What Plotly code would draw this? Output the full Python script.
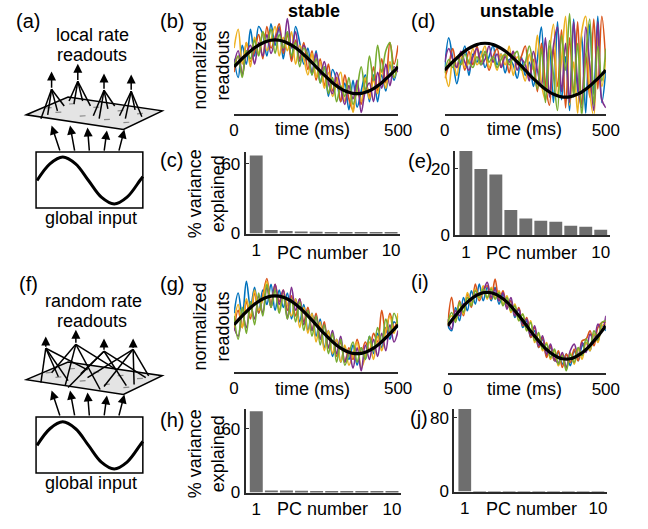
import plotly.graph_objects as go

W, H = 648, 529
FONT = "Liberation Sans, Arial, Helvetica, sans-serif"

# ---------------- data ----------------
t_ms = [i * 12.5 for i in range(41)]
global_input = [0, .16, .31, .45, .59, .71, .81, .89, .95, .99, 1, .99, .95, .89, .81, .71, .59, .45, .31, .16,
                0, -.16, -.31, -.45, -.59, -.71, -.81, -.89, -.95, -.99, -1, -.99, -.95, -.89, -.81, -.71, -.59,
                -.45, -.31, -.16, 0]

blue_b = [0.3, -0.4, 0.8, 0.1, 1.4, 0.4, 1.5, 1.2, 0.4, 1.6, 0.8, 1.5, 0.3, 1.3, 0.3, 1.5, 0.9, 0.1, 0.7, -0.3, 0.6,
          -0.6, 0.0, -1.1, -0.1, -0.5, -1.3, -0.6, -1.6, -0.5, -1.5, -0.9, -0.3, -1.3, -0.3, -1.3, -0.3, -0.9, 0.1, -0.5, 0.2]
orange_b = [-0.2, 0.4, -0.3, 0.9, 0.2, 0.6, 1.2, 0.3, 1.5, 0.7, 1.1, 1.6, 0.5, 1.2, 0.2, 1.0, 0.3, 0.9, -0.1, 0.6, -0.5,
            0.3, -0.7, 0.1, -0.9, -0.4, -1.3, -0.3, -1.2, -1.6, -0.6, -1.4, -0.5, -1.1, 0.0, -0.9, 0.3, -0.6, 0.9, 0.1, 0.8]
yellow_b = [0.7, 1.4, 0.1, 0.9, 0.0, 1.1, 0.5, 1.3, 0.6, 1.0, 1.5, 0.4, 1.1, 0.6, 1.3, 0.1, 0.8, 0.3, -0.3, 0.5, -0.4,
            0.2, -0.8, -0.2, -1.1, -0.6, -0.2, -1.3, -0.7, -1.7, -0.9, -1.3, -0.4, -1.2, -0.5, -1.0, -0.1, -0.8, 0.2, -0.4, 0.1]
purple_b = [0.1, 0.6, -0.3, 0.5, 0.8, 0.1, 0.9, 0.4, 1.2, 0.5, 1.0, 1.4, 0.6, 1.8, 0.7, 1.3, 0.2, 0.8, 0.4, -0.2, 0.5,
            -0.3, 0.2, -0.6, -1.0, -0.2, -0.8, -1.4, -0.7, -1.2, -0.5, -1.7, -0.9, -0.6, -1.3, -0.2, -0.8, 0.1, -0.7, 0.0, -0.2]
green_b = [0.0, 0.4, -0.4, 0.6, 0.3, 1.0, 0.4, 1.3, 0.9, 1.4, 0.5, 1.2, 0.7, 1.3, 0.4, 0.9, 0.0, 0.7, 0.4, -0.3, 0.3,
           -0.6, 0.0, -1.0, -0.4, -1.3, -0.7, -1.1, -0.4, -1.4, -0.8, 0.0, -0.9, 0.4, -0.5, 0.8, -0.2, 0.6, 0.9, -0.4, 0.3]

blue_d = [0.1, 1.2, 0.4, -0.5, 0.3, 0.9, -0.2, 0.6, 0.3, 0.7, 0.1, 0.5, 0.9, 0.2, 0.6, -0.1, 0.4, 0.2, -0.3, 0.5, -0.2,
          0.3, -0.6, 0.4, 1.6, -0.7, 0.9, -1.2, 1.8, -1.1, 0.5, -1.5, 1.9, -0.8, 1.3, -1.6, 1.7, -0.9, 2.0, -1.2, 0.0]
orange_d = [-0.3, 0.2, 0.8, 0.1, 0.6, 0.0, 0.7, 0.2, 0.9, 0.3, 0.6, 0.0, 0.5, 0.8, 0.1, 0.6, -0.1, 0.7, 0.2, 0.5, 0.9,
            -0.3, 0.4, -0.8, 1.0, -0.5, -1.3, 0.8, -0.6, 1.5, -1.4, 1.2, -0.9, 1.8, -1.3, 0.6, -1.0, 1.9, -0.7, 2.0, 0.3]
yellow_d = [0.0, -0.6, 0.4, -0.2, 0.6, 0.1, 0.3, 0.8, 0.2, 0.5, 0.9, 0.1, 0.4, 0.0, 0.6, 0.2, 0.9, -0.2, 0.5, 0.1, -0.4,
            0.6, 0.0, 1.3, -0.5, -1.1, 0.6, 1.7, -0.9, 0.4, 2.0, -1.3, 0.3, -1.6, 1.4, 2.0, -0.8, -1.7, 1.2, -0.6, 0.4]
purple_d = [0.3, 0.8, 0.4, 0.1, 0.7, 0.3, 0.0, 0.5, 0.8, 0.2, 0.4, 0.9, 0.3, 0.6, 0.1, 0.5, 0.3, 0.7, 0.0, 0.4, 0.2,
            -0.4, 0.7, 0.0, -0.6, 1.2, -1.0, 0.9, 1.6, -0.8, 1.0, -1.2, 1.8, -0.5, -1.4, 1.6, 0.2, -1.5, 1.8, -1.1, -1.4]
green_d = [-0.1, 0.4, 0.1, 0.5, 0.2, 0.6, 0.3, 0.1, 0.5, 0.2, 0.7, 0.3, 0.5, 0.1, 0.4, 0.6, 0.2, 0.5, 0.7, 0.0, 0.3,
           0.9, 0.1, -0.7, 0.8, -1.2, 1.1, -0.2, -1.5, 1.3, 0.0, 2.1, -1.0, 1.0, -1.7, 0.5, 1.9, -1.3, 0.9, -0.4, 0.8]

blue_g = [0.4, 1.1, 0.3, 1.5, 0.6, 1.3, 0.4, 1.2, 0.7, 1.4, 0.5, 1.2, 0.6, 1.1, 0.2, 0.9, 0.1, 0.7, -0.2, 0.4, -0.4,
          0.2, -0.8, -0.2, -1.1, -0.5, -1.3, -0.8, -1.2, -0.7, -1.4, -0.8, -1.2, -0.4, -1.0, -0.3, -0.8, -0.1, -0.5, 0.1, -0.1]
orange_g = [-0.2, 0.5, -0.1, 0.8, 0.2, 1.1, 0.4, 1.0, 1.6, 0.7, 1.4, 0.8, 1.2, 0.5, 1.0, 0.3, 0.9, 0.1, 0.6, -0.2, 0.4,
            -0.5, 0.1, -0.8, -0.3, -1.1, -0.6, -1.3, -0.8, -1.2, -0.5, -1.0, -0.6, -0.9, -0.3, -0.6, 0.5, -0.3, 0.4, -0.1, 0.3]
yellow_g = [0.1, 0.7, -0.1, 0.9, 0.3, 1.2, 0.5, 0.9, 1.5, 0.6, 1.3, 0.5, 1.1, 0.7, 0.3, 0.9, -0.1, 0.6, -0.3, 0.4, -0.6,
            0.1, -0.9, -0.2, -1.0, -0.5, -1.3, -0.7, -1.4, -1.0, -0.6, -1.5, -1.1, -0.6, -1.2, -0.4, -0.9, -0.2, 0.3, -0.3, 0.4]
purple_g = [-0.1, -0.4, 0.4, -0.1, 0.7, 0.2, 1.0, 0.4, 1.3, 0.6, 1.4, 0.7, 1.2, 0.2, 1.3, 0.5, 0.9, 0.0, 0.5, -0.2, 0.3,
            -0.5, 0.0, -0.8, -0.2, -1.0, -0.4, -1.3, -0.9, -1.5, -0.8, -1.6, -0.7, -1.2, -0.5, -1.1, -0.3, -0.9, 0.0, -0.6, -0.2]
green_g = [0.3, -0.5, 0.6, -0.3, 0.8, 0.0, 1.1, 0.3, 1.4, 0.6, 1.2, 0.4, 1.0, 0.2, 0.9, 0.1, 0.8, -0.2, 0.5, -0.4, 0.3,
           -0.7, 0.0, -1.0, -0.3, -1.3, -0.5, -1.4, -1.0, -0.6, -1.3, -0.8, -1.2, -0.4, -0.9, -0.1, -0.6, 0.2, -0.3, 0.4, 0.0]

blue_i = [0.0, -0.15, 0.55, 0.15, 0.85, 0.45, 1.05, 0.65, 1.25, 0.75, 1.15, 0.75, 1.15, 0.65, 0.95, 0.55, 0.75, 0.25, 0.5, -0.05, 0.15,
          -0.35, -0.15, -0.65, -0.4, -0.9, -0.65, -1.05, -0.8, -1.15, -0.85, -1.2, -0.75, -1.05, -0.6, -0.5, -0.75, -0.25, -0.45, 0.0, -0.15]
orange_i = [0.0, 0.85, 0.15, 0.75, 0.3, 0.95, 0.55, 1.25, 0.75, 1.05, 1.2, 0.8, 1.4, 0.75, 1.05, 0.55, 0.75, 0.3, 0.55, 0.0, 0.25,
            -0.35, -0.05, -0.65, -0.35, -0.95, -0.6, -1.05, -0.75, -1.25, -0.85, -1.1, -0.7, -1.05, -0.45, -0.4, -0.15, -0.6, -0.05, 0.1, 0.1]
yellow_i = [0.1, 0.3, 0.15, 0.65, 0.35, 1.0, 0.65, 1.1, 0.8, 1.2, 0.8, 1.15, 0.85, 1.05, 0.65, 0.9, 0.4, 0.65, 0.15, 0.35, -0.15,
            0.15, -0.5, -0.25, -0.75, -0.5, -1.0, -0.75, -1.2, -0.85, -1.3, -0.8, -1.15, -0.7, -1.0, -0.5, -0.75, -0.25, -0.5, 0.0, 0.05]
purple_i = [0.2, -0.1, 0.45, 0.3, 0.65, 0.7, 0.75, 0.95, 0.9, 1.05, 1.3, 0.85, 1.1, 0.75, 1.0, 0.5, 0.85, 0.3, 0.5, 0.05, 0.2,
            -0.3, 0.0, -0.6, -0.3, -0.85, -0.55, -1.0, -1.1, -0.8, -1.25, -0.75, -0.55, -0.9, -0.5, -0.8, -0.25, -0.45, 0.05, -0.15, 0.3]
green_i = [0.05, 0.4, 0.1, 0.7, 0.4, 0.85, 0.6, 1.05, 0.85, 1.1, 0.85, 1.1, 0.8, 1.0, 0.6, 0.85, 0.45, 0.6, 0.15, 0.35, -0.15,
           0.1, -0.45, -0.2, -0.7, -0.55, -0.95, -0.7, -1.15, -0.9, -1.35, -0.85, -1.1, -0.65, -0.9, -0.4, -0.65, -0.15, -0.4, 0.1, 0.15]

pc_number = [1, 2, 3, 4, 5, 6, 7, 8, 9, 10]
var_c = [67, 3.1, 2.2, 1.8, 1.5, 1.2, 1.0, 0.8, 0.7, 0.5]
var_e = [25.3, 19.9, 18.3, 7.6, 5.1, 4.4, 4.1, 2.9, 2.6, 1.7]
var_h = [76.6, 2.0, 1.8, 1.6, 1.4, 1.2, 1.0, 0.9, 0.8, 0.7]
var_j = [90, 0.3, 0.2, 0.15, 0.1, 0.1, 0.1, 0.05, 0.05, 0.05]

time_ticks = [0, 500]
pc_ticks = [1, 10]

COLORS = ["#0072BD", "#D95319", "#EDB120", "#7E2F8E", "#77AC30"]
AX_COLOR = "#2a2a2a"
BAR_COLOR = "#6e6e6e"
TXT = 18
TICK = 17
LAB = 20


def xd(x0, x1):
    return [x0 / W, x1 / W]


def yd(top, bot):
    return [1 - bot / H, 1 - top / H]


fig = go.Figure()
layout = dict(width=W, height=H, margin=dict(l=0, r=0, t=0, b=0), showlegend=False,
              paper_bgcolor="white", plot_bgcolor="rgba(0,0,0,0)",
              font=dict(family=FONT, size=TXT, color="black"))

time_panels = [
    ("x", "y", [blue_b, orange_b, yellow_b, purple_b, green_b], (236, 405), (12, 116), [-1.75, 2.05]),
    ("x2", "y2", [blue_d, orange_d, yellow_d, purple_d, green_d], (453, 619), (12, 116), [-1.62, 2.17]),
    ("x3", "y3", [blue_g, orange_g, yellow_g, purple_g, green_g], (236, 405), (278, 379), [-1.63, 1.80]),
    ("x4", "y4", [blue_i, orange_i, yellow_i, purple_i, green_i], (456, 619), (278, 380), [-1.41, 1.59]),
]
for xa, ya, series, xdom, ydom, yr in time_panels:
    for s, c in zip(series, COLORS):
        fig.add_trace(go.Scatter(x=t_ms, y=s, mode="lines", xaxis=xa, yaxis=ya,
                                 line=dict(color=c, width=1.6, shape="spline", smoothing=1.0)))
    fig.add_trace(go.Scatter(x=t_ms, y=global_input, mode="lines", xaxis=xa, yaxis=ya,
                             line=dict(color="black", width=3.2, shape="spline")))
    xk = "xaxis" + xa[1:]
    yk = "yaxis" + ya[1:]
    layout[xk] = dict(domain=xd(*xdom), range=[0, 500], anchor=ya, showgrid=False, zeroline=False,
                      showline=True, linewidth=2, linecolor=AX_COLOR, ticks="", tickvals=time_ticks,
                      tickfont=dict(size=TICK))
    layout[yk] = dict(domain=yd(*ydom), range=yr, anchor=xa, visible=False)

bar_panels = [
    ("x5", "y5", var_c, (248, 407), (155, 238), [0, 70], [0, 60]),
    ("x6", "y6", var_e, (464, 623), (154, 240), [0, 25.3], [0, 20]),
    ("x7", "y7", var_h, (248, 408), (417, 502), [0, 78.5], [0, 60]),
    ("x8", "y8", var_j, (463, 620), (417, 501), [0, 89.6], [0, 80]),
]
for xa, ya, vals, xdom, ydom, yr, yt in bar_panels:
    fig.add_trace(go.Bar(x=pc_number, y=vals, xaxis=xa, yaxis=ya, width=0.86,
                         marker=dict(color=BAR_COLOR, line=dict(width=0))))
    xk = "xaxis" + xa[1:]
    yk = "yaxis" + ya[1:]
    layout[xk] = dict(domain=xd(*xdom), range=[0.3, 10.6], anchor=ya, showgrid=False, zeroline=False,
                      showline=True, linewidth=2, linecolor=AX_COLOR, ticks="", tickvals=pc_ticks,
                      tickfont=dict(size=TICK))
    layout[yk] = dict(domain=yd(*ydom), range=yr, anchor=xa, showgrid=False, zeroline=False,
                      showline=True, linewidth=2, linecolor=AX_COLOR, ticks="inside", ticklen=3,
                      tickcolor=AX_COLOR, tickvals=yt, tickfont=dict(size=TICK))

# overlay axis in pixel units for the schematics and labels
layout["xaxis9"] = dict(domain=[0, 1], range=[0, W], anchor="y9", visible=False, fixedrange=True)
layout["yaxis9"] = dict(domain=[0, 1], range=[H, 0], anchor="x9", visible=False, fixedrange=True)

shapes = []
annotations = []
TY = 3  # vertical text nudge


def seg(x0, y0, x1, y1, color="black", width=1.5):
    shapes.append(dict(type="line", xref="x9", yref="y9", x0=x0, y0=y0, x1=x1, y1=y1,
                       line=dict(color=color, width=width)))


def arrow(tx, ty, sx, sy):
    annotations.append(dict(x=tx, y=ty, ax=sx, ay=sy, xref="x9", yref="y9", axref="x9", ayref="y9",
                            showarrow=True, arrowhead=2, arrowsize=1.2, arrowwidth=1.5,
                            arrowcolor="black", text=""))


def text(x, y, s, size=TXT, bold=False, angle=0):
    if bold:
        s = "<b>" + s + "</b>"
    annotations.append(dict(x=x, y=y + TY, xref="x9", yref="y9", text=s, showarrow=False,
                            font=dict(size=size, family=FONT, color="black"),
                            textangle=angle, xanchor="center", yanchor="middle"))


def schematic(dy, tents):
    shapes.append(dict(type="rect", xref="x9", yref="y9", x0=32, y0=155 + dy, x1=142, y1=212 + dy,
                       line=dict(color="black", width=1.5), fillcolor="rgba(0,0,0,0)"))
    bx = [33, 46.25, 59.5, 72.75, 86, 99.25, 112.5, 125.75, 139, 142]
    by = [184, 167, 160, 167, 184, 201, 208, 201, 184, 180]
    fig.add_trace(go.Scatter(x=bx, y=[v + dy for v in by], mode="lines", xaxis="x9", yaxis="y9",
                             line=dict(color="black", width=3, shape="spline"), hoverinfo="skip"))
    shapes.append(dict(type="path", xref="x9", yref="y9",
                       path="M22,%g L65,%g L162,%g L122,%g Z" % (117 + dy, 99 + dy, 113 + dy, 132 + dy),
                       fillcolor="#e4e4e4", line=dict(color="black", width=1.5)))
    for (ux, uy) in [(55, 114.6), (80, 118.4), (105, 122), (125, 125),
                     (69, 106), (94, 109.5), (119, 113), (139, 116), (45, 110)]:
        seg(ux - 3, uy + dy, ux + 3, uy + dy - 0.4, color="#8a8a8a", width=1.2)
    for (sx, tx, ty) in [(57, 48, 128), (72, 67, 128), (87, 85, 130), (102, 105, 133), (117, 123, 132)]:
        arrow(tx, ty + dy, sx, 155 + dy)
    for (tip, apex, legs) in tents:
        for lx, ly in legs:
            seg(apex[0], apex[1], lx, ly)
        arrow(tip[0], tip[1], apex[0], apex[1])


tents_a = [
    ((48, 73), (48, 91), [(37, 121), (44, 117), (54, 113), (61, 108)]),
    ((75, 65), (75, 83), [(66, 103), (71, 106), (80, 103), (88, 108)]),
    ((102, 75), (102, 92), [(91, 118), (97, 121), (106, 111), (113, 108)]),
    ((130, 76), (130, 93), [(118, 118), (124, 121), (134, 112), (141, 119)]),
]
tents_f = [
    ((42, 343), (42, 355), [(37, 390), (55, 384), (65, 388), (85, 377)]),
    ((73, 336), (73, 351), [(48, 380), (62, 393), (98, 397), (115, 377)]),
    ((102, 345), (102, 358), [(65, 395), (78, 381), (125, 393), (145, 385)]),
    ((132, 345), (132, 356), [(85, 385), (102, 394), (133, 392), (148, 383)]),
]
schematic(0, tents_a)
schematic(270, tents_f)

text(90, 33, "local rate")
text(90, 53, "readouts")
text(89, 219, "global input")
text(91, 304, "random rate")
text(90, 324, "readouts")
text(89, 489, "global input")

text(318, 8, "stable", bold=True)
text(527, 8, "unstable", bold=True)

for lab, x, y in [("(a)", 24, 18), ("(b)", 172, 18), ("(c)", 172, 160), ("(d)", 431, 18), ("(e)", 428, 161),
                  ("(f)", 24, 286), ("(g)", 172, 286), ("(h)", 172, 425), ("(i)", 428, 284), ("(j)", 427, 423)]:
    text(x, y, lab, size=LAB)

text(213, 64, "normalized<br>readouts", angle=-90)
text(213, 330, "normalized<br>readouts", angle=-90)
text(207, 194, "% variance<br>explained", angle=-90)
text(207, 459, "% variance<br>explained", angle=-90)

for x, y in [(317, 128), (535, 128), (317, 393), (535, 393)]:
    text(x, y, "time (ms)")
for x, y in [(327, 255), (542, 255), (327, 516), (542, 516)]:
    text(x, y, "PC number")

layout["shapes"] = shapes
layout["annotations"] = annotations
fig.update_layout(**layout)
fig.write_html("out.html")
